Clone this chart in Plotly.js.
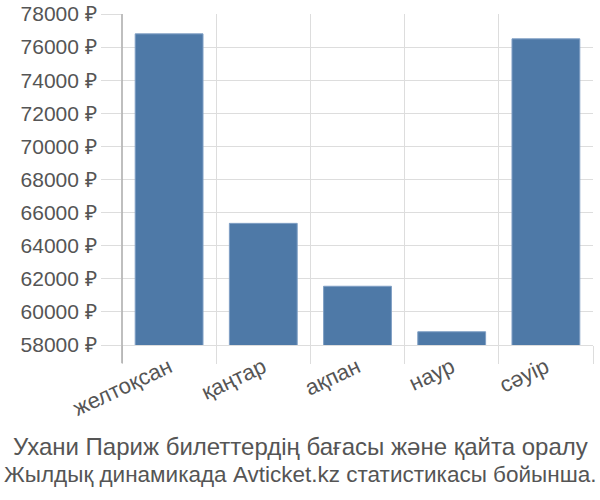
<!DOCTYPE html>
<html>
<head>
<meta charset="utf-8">
<script src="https://cdn.plot.ly/plotly-3.0.1.min.js"></script>
<style>html,body{margin:0;padding:0;background:#fff;}#chart{width:600px;height:500px;}</style>
</head>
<body>
<div id="chart"></div>
<script>
const categories = ["желтоқсан", "қаңтар", "ақпан", "наур", "сәуір"];
const prices = [76800, 65350, 61550, 58800, 76500];
const yTickValues = [58000, 60000, 62000, 64000, 66000, 68000, 70000, 72000, 74000, 76000, 78000];
const yTickLabels = yTickValues.map(v => v + " ₽");
const titleLines = ["Ухани Париж билеттердің бағасы және қайта оралу", "Жылдық динамикада Avticket.kz статистикасы бойынша."];

const fontFam = "Liberation Sans, Arial, sans-serif";
const trace = {
  type: "bar",
  x: categories,
  y: prices,
  base: 0,
  marker: {color: "#4e79a7", line: {color: "#7f9fc4", width: 1}},
  hoverinfo: "none"
};
const titleY = [446, 474];
const titleSize = [24, 22.5];
const layout = {
  width: 600, height: 500,
  margin: {l: 122, r: 7, t: 14, b: 155},
  paper_bgcolor: "#fff", plot_bgcolor: "#fff",
  bargap: 0.28,
  showlegend: false,
  font: {family: fontFam, color: "#555"},
  annotations: titleLines.map((t, i) => ({
    text: t, showarrow: false,
    xref: "paper", x: (300 - 122) / 471, xanchor: "center",
    yref: "paper", y: (345 - titleY[i]) / 331, yanchor: "middle",
    font: {family: fontFam, size: titleSize[i], color: "#555"}
  })),
  xaxis: {
    type: "category",
    tickson: "boundaries",
    ticks: "outside", ticklen: 18, tickcolor: "#ddd", tickwidth: 1,
    showgrid: true, gridcolor: "#ddd", gridwidth: 1,
    showline: true, linecolor: "#ddd", linewidth: 1,
    tickangle: -25,
    tickfont: {family: fontFam, size: 22, color: "#555"},
    fixedrange: true
  },
  yaxis: {
    range: [58000, 78000],
    tickvals: yTickValues,
    ticktext: yTickLabels,
    ticks: "outside", ticklen: 20, tickcolor: "#ddd", tickwidth: 1,
    showgrid: true, gridcolor: "#ddd", gridwidth: 1,
    showline: false, zeroline: false,
    tickfont: {family: fontFam, size: 21, color: "#555"},
    fixedrange: true
  },
  shapes: [{
    type: "line", xref: "paper", yref: "paper",
    x0: 0, x1: 0, y0: -0.055, y1: 1,
    line: {color: "#aaa", width: 1.5}
  }]
};
Plotly.newPlot("chart", [trace], layout, {displayModeBar: false, staticPlot: true});
</script>
</body>
</html>
